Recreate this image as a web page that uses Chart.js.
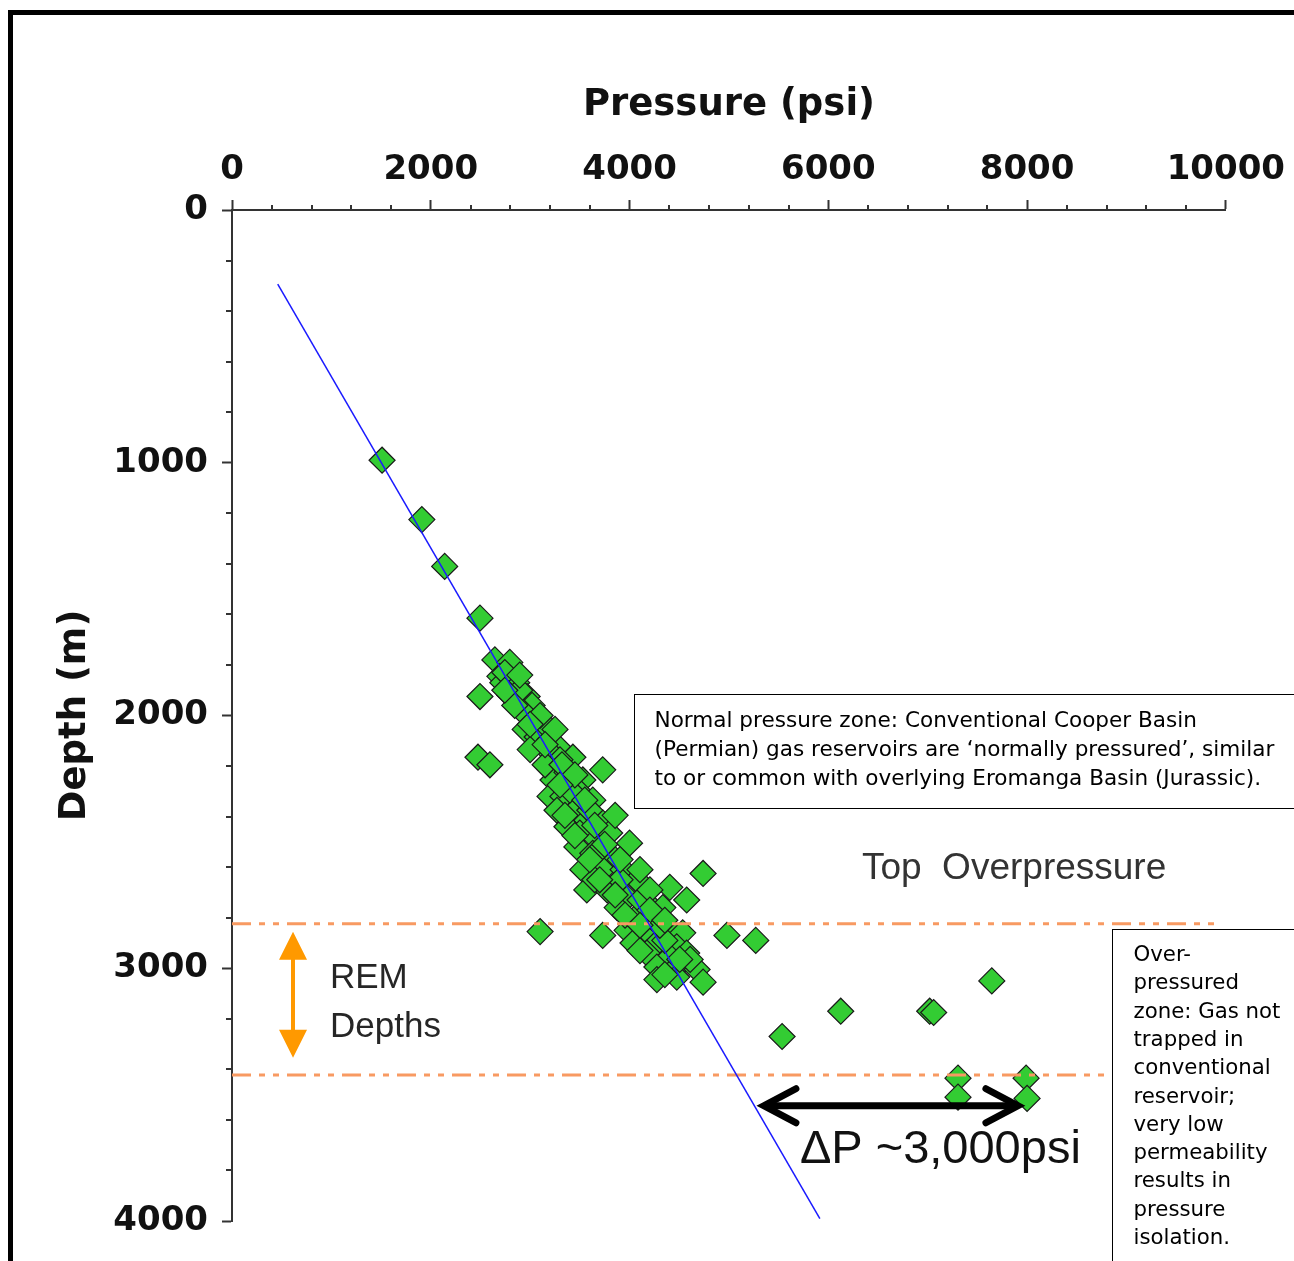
<!DOCTYPE html>
<html>
<head>
<meta charset="utf-8">
<script src="https://cdn.jsdelivr.net/npm/chart.js@4.4.1/dist/chart.umd.min.js"></script>
<style>
  html, body { margin: 0; padding: 0; background: #fff; }
  #wrap { position: relative; width: 1294px; height: 1261px; overflow: hidden; }
  #frame { position: absolute; left: 8px; top: 10px; right: -20px; bottom: -20px;
           border-top: 5px solid #000; border-left: 5px solid #000; pointer-events: none; }
  canvas { position: absolute; left: 0; top: 0; }
</style>
</head>
<body>
<div id="wrap">
  <canvas id="chart" width="1294" height="1261"></canvas>
  <div id="frame"></div>
</div>
<script>
const pressurePsi = [
  1510, 1910, 2140, 2495, 2645, 2795, 2695, 2495, 2865, 2725,
  2795, 2970, 3020, 2925, 3070, 2950, 3070, 3200, 3280, 3170,
  3430, 2475, 2595, 3730, 3230, 3370, 3530, 3200, 3330, 3500,
  3630, 3270, 3430, 3570, 3730, 3370, 3500, 3670, 3800, 4000,
  3470, 3630, 3830, 3530, 3730, 3935, 4740, 4075, 3570, 3775,
  3975, 4405, 4575, 4175, 4335, 3875, 4075, 3100, 3730, 3975,
  4175, 4405, 4535, 4035, 4275, 4475, 4175, 4405, 4575, 4275,
  4475, 4680, 4275, 4475, 4740, 4980, 5270, 5535, 6125, 7020,
  7060, 7645, 7305, 7305, 7990, 8000,
  2895, 3150, 3300, 3400, 3600, 3700, 3905, 4105, 4255, 4355,
  4610, 4305, 4205, 3855, 3150, 3000, 2745, 2845, 3650, 4105,
  2745, 2895, 3100, 3000, 3250, 3150, 3320, 3450, 3300, 3550,
  3350, 3650, 3450, 3750, 3600, 3905, 3700, 4105, 3855, 4205,
  3955, 4105, 4355, 4505, 4355
];
const depthM = [
  990, 1225, 1410, 1615, 1780, 1790, 1845, 1925, 1870, 1870,
  1920, 1925, 1960, 1985, 2020, 2055, 2085, 2095, 2125, 2135,
  2165, 2165, 2195, 2215, 2255, 2225, 2255, 2320, 2320, 2305,
  2335, 2375, 2385, 2415, 2425, 2440, 2465, 2490, 2465, 2505,
  2520, 2545, 2560, 2610, 2610, 2610, 2625, 2650, 2690, 2690,
  2720, 2680, 2730, 2740, 2760, 2760, 2795, 2855, 2870, 2850,
  2860, 2850, 2860, 2900, 2900, 2915, 2940, 2955, 2940, 2995,
  2995, 3005, 3045, 3035, 3055, 2870, 2890, 3270, 3170, 3170,
  3175, 3050, 3435, 3510, 3435, 3515,
  1900, 2035, 2175, 2295, 2375, 2530, 2650, 2730, 2810, 2890,
  2965, 2830, 2690, 2395, 2195, 2135, 1830, 1960, 2650, 2930,
  1900, 1840, 2000, 2035, 2055, 2115, 2195, 2235, 2275, 2335,
  2395, 2435, 2475, 2510, 2570, 2570, 2650, 2610, 2710, 2770,
  2790, 2830, 2810, 2965, 3025
];

// hydrostatic trend line
const trendPsi = [460, 5915];
const trendDepth = [293, 3991];

// REM depth interval (top overpressure / base)
const remDepths = [2824, 3422];
const remLineSpan = [0, 9960];

const pressureTicks = [0, 2000, 4000, 6000, 8000, 10000];
const depthTicks = [0, 1000, 2000, 3000, 4000];
const pressureMinorStep = 400;
const depthMinorStep = 200;

// annotation anchors in data units
const remArrow = { psi: 614, top: 2856, bottom: 3354 };
const remLabel = { psi: 986, lines: ["REM", "Depths"], depths: [3038, 3232] };
const topOverLabel = { psi: 6338, depth: 2607, text: "Top  Overpressure" };
const deltaArrow = { from: 5332, to: 7928, depth: 3544 };
const deltaLabel = { psi: 5714, depth: 3718, text: "\u0394P ~3,000psi" };
const normalBox = {
  psi: 4044, top: 1915, bottom: 2366,
  lines: [
    "Normal pressure zone: Conventional Cooper Basin",
    "(Permian) gas reservoirs are \u2018normally pressured\u2019, similar",
    "to or common with overlying Eromanga Basin (Jurassic)."
  ]
};
const overBox = {
  psi: 8853, top: 2844,
  lines: ["Over-", "pressured", "zone: Gas not", "trapped in", "conventional",
          "reservoir;", "very low", "permeability", "results in", "pressure", "isolation."]
};

const points = pressurePsi.map((p, i) => ({ x: p, y: depthM[i] }));
const trend = trendPsi.map((p, i) => ({ x: p, y: trendDepth[i] }));

function remLine(d) {
  return {
    data: remLineSpan.map((p) => ({ x: p, y: d })),
    showLine: true,
    borderColor: "#f89a62",
    borderWidth: 3,
    borderDash: [19, 8, 6, 8, 6, 8],
    pointRadius: 0,
    order: 0,
  };
}

function fitSize(ctx, family, lines, width) {
  ctx.font = "20px " + family;
  const w = Math.max(...lines.map((l) => ctx.measureText(l).width));
  return (20 * width) / w;
}

const minorTicks = {
  id: "minorTicks",
  afterDraw(chart) {
    const { ctx, chartArea, scales: { x, y } } = chart;
    ctx.save();
    ctx.strokeStyle = "#333";
    ctx.lineWidth = 2;
    ctx.beginPath();
    for (let v = 0; v <= x.max; v += pressureMinorStep) {
      if (pressureTicks.includes(v)) continue;
      const px = Math.round(x.getPixelForValue(v));
      ctx.moveTo(px, chartArea.top);
      ctx.lineTo(px, chartArea.top - 5);
    }
    for (let v = 0; v <= y.max; v += depthMinorStep) {
      if (depthTicks.includes(v)) continue;
      const py = Math.round(y.getPixelForValue(v));
      ctx.moveTo(chartArea.left, py);
      ctx.lineTo(chartArea.left - 6, py);
    }
    ctx.stroke();
    ctx.restore();
  },
};

const notes = {
  id: "notes",
  afterDraw(chart) {
    const { ctx, scales: { x, y } } = chart;
    const W = chart.width, H = chart.height;
    ctx.save();

    // REM depths arrow
    const ax = x.getPixelForValue(remArrow.psi);
    const at = y.getPixelForValue(remArrow.top);
    const ab = y.getPixelForValue(remArrow.bottom);
    ctx.fillStyle = "#ff9900";
    ctx.strokeStyle = "#ff9900";
    ctx.lineWidth = 4;
    ctx.beginPath();
    ctx.moveTo(ax, at + 20);
    ctx.lineTo(ax, ab - 20);
    ctx.stroke();
    ctx.beginPath();
    ctx.moveTo(ax, at);
    ctx.lineTo(ax + 14, at + 28);
    ctx.lineTo(ax - 14, at + 28);
    ctx.closePath();
    ctx.moveTo(ax, ab);
    ctx.lineTo(ax + 14, ab - 28);
    ctx.lineTo(ax - 14, ab - 28);
    ctx.closePath();
    ctx.fill();

    ctx.fillStyle = "#262626";
    ctx.font = "35px 'Liberation Sans', Arial, sans-serif";
    ctx.textAlign = "left";
    ctx.textBaseline = "middle";
    remLabel.lines.forEach((t, i) => {
      ctx.fillText(t, x.getPixelForValue(remLabel.psi), y.getPixelForValue(remLabel.depths[i]));
    });

    ctx.fillStyle = "#333";
    ctx.font = "37px 'Liberation Sans', Arial, sans-serif";
    ctx.fillText(topOverLabel.text, x.getPixelForValue(topOverLabel.psi), y.getPixelForValue(topOverLabel.depth));

    // delta P double arrow
    const x1 = x.getPixelForValue(deltaArrow.from);
    const x2 = x.getPixelForValue(deltaArrow.to);
    const dy = y.getPixelForValue(deltaArrow.depth);
    ctx.strokeStyle = "#000";
    ctx.lineWidth = 7;
    ctx.lineCap = "butt";
    ctx.beginPath();
    ctx.moveTo(x1 + 4, dy);
    ctx.lineTo(x2 - 4, dy);
    ctx.stroke();
    ctx.lineCap = "round";
    ctx.lineJoin = "miter";
    ctx.beginPath();
    ctx.moveTo(x1 + 34, dy - 17);
    ctx.lineTo(x1 + 2, dy);
    ctx.lineTo(x1 + 34, dy + 17);
    ctx.moveTo(x2 - 34, dy - 17);
    ctx.lineTo(x2 - 2, dy);
    ctx.lineTo(x2 - 34, dy + 17);
    ctx.stroke();

    ctx.fillStyle = "#111";
    ctx.font = "47px 'Liberation Sans', Arial, sans-serif";
    ctx.fillText(deltaLabel.text, x.getPixelForValue(deltaLabel.psi), y.getPixelForValue(deltaLabel.depth));

    // text boxes
    const family = "'DejaVu Sans', sans-serif";
    ctx.lineWidth = 1;
    ctx.strokeStyle = "#000";

    const b1l = Math.round(x.getPixelForValue(normalBox.psi)) + 0.5;
    const b1t = Math.round(y.getPixelForValue(normalBox.top)) + 0.5;
    const b1b = Math.round(y.getPixelForValue(normalBox.bottom)) + 0.5;
    ctx.fillStyle = "#fff";
    ctx.fillRect(b1l, b1t, W - b1l + 5, b1b - b1t);
    ctx.strokeRect(b1l, b1t, W - b1l + 5, b1b - b1t);
    const s1 = fitSize(ctx, family, normalBox.lines, 620);
    ctx.font = s1.toFixed(2) + "px " + family;
    ctx.fillStyle = "#000";
    normalBox.lines.forEach((t, i) => ctx.fillText(t, b1l + 20, b1t + 27 + i * 29));

    const b2l = Math.round(x.getPixelForValue(overBox.psi)) + 0.5;
    const b2t = Math.round(y.getPixelForValue(overBox.top)) + 0.5;
    ctx.fillStyle = "#fff";
    ctx.fillRect(b2l, b2t, W - b2l + 5, H - b2t + 5);
    ctx.strokeRect(b2l, b2t, W - b2l + 5, H - b2t + 5);
    const s2 = fitSize(ctx, family, overBox.lines, 147);
    ctx.font = s2.toFixed(2) + "px " + family;
    ctx.fillStyle = "#000";
    overBox.lines.forEach((t, i) => ctx.fillText(t, b2l + 21, b2t + 26 + i * 28.3));

    ctx.restore();
  },
};

const tickFont = { family: "'DejaVu Sans', sans-serif", size: 34, weight: "bold" };
const titleFont = { family: "'DejaVu Sans', sans-serif", size: 37, weight: "bold" };

const config = {
  type: "scatter",
  data: {
    datasets: [
      {
        data: trend,
        showLine: true,
        borderColor: "#1a1aff",
        borderWidth: 1.5,
        pointRadius: 0,
        order: 0,
      },
      remLine(remDepths[0]),
      remLine(remDepths[1]),
      {
        data: points,
        pointStyle: "rectRot",
        pointRadius: 13,
        backgroundColor: "#33cc33",
        borderColor: "#1a1a1a",
        borderWidth: 1.2,
        order: 1,
      },
    ],
  },
  options: {
    responsive: false,
    animation: false,
    layout: { padding: { left: 0, top: 0, right: 68, bottom: 40 } },
    plugins: {
      legend: { display: false },
      tooltip: { enabled: false },
    },
    scales: {
      x: {
        type: "linear",
        position: "top",
        min: 0,
        max: 10000,
        afterBuildTicks: (scale) => {
          scale.ticks = pressureTicks.map((v) => ({ value: v }));
        },
        afterFit: (scale) => {
          scale.height = 210;
        },
        ticks: { font: tickFont, color: "#111", padding: 9, maxRotation: 0, callback: (v) => String(v) },
        grid: { drawOnChartArea: false, tickLength: 10, tickWidth: 2, tickColor: "#333" },
        border: { display: true, color: "#333", width: 2 },
        title: { display: true, text: "Pressure (psi)", font: titleFont, color: "#111", padding: { top: 83, bottom: 0 } },
      },
      y: {
        type: "linear",
        position: "left",
        reverse: true,
        min: 0,
        max: 4000,
        afterBuildTicks: (scale) => {
          scale.ticks = depthTicks.map((v) => ({ value: v }));
        },
        afterFit: (scale) => {
          scale.width = 232;
        },
        ticks: { font: tickFont, color: "#111", padding: 14, callback: (v) => String(v) },
        grid: { drawOnChartArea: false, tickLength: 10, tickWidth: 2, tickColor: "#333" },
        border: { display: true, color: "#333", width: 2 },
        title: { display: true, text: "Depth (m)", font: titleFont, color: "#111", padding: { top: 53, bottom: 0 } },
      },
    },
  },
  plugins: [minorTicks, notes],
};

new Chart(document.getElementById("chart"), config);
</script>
</body>
</html>
